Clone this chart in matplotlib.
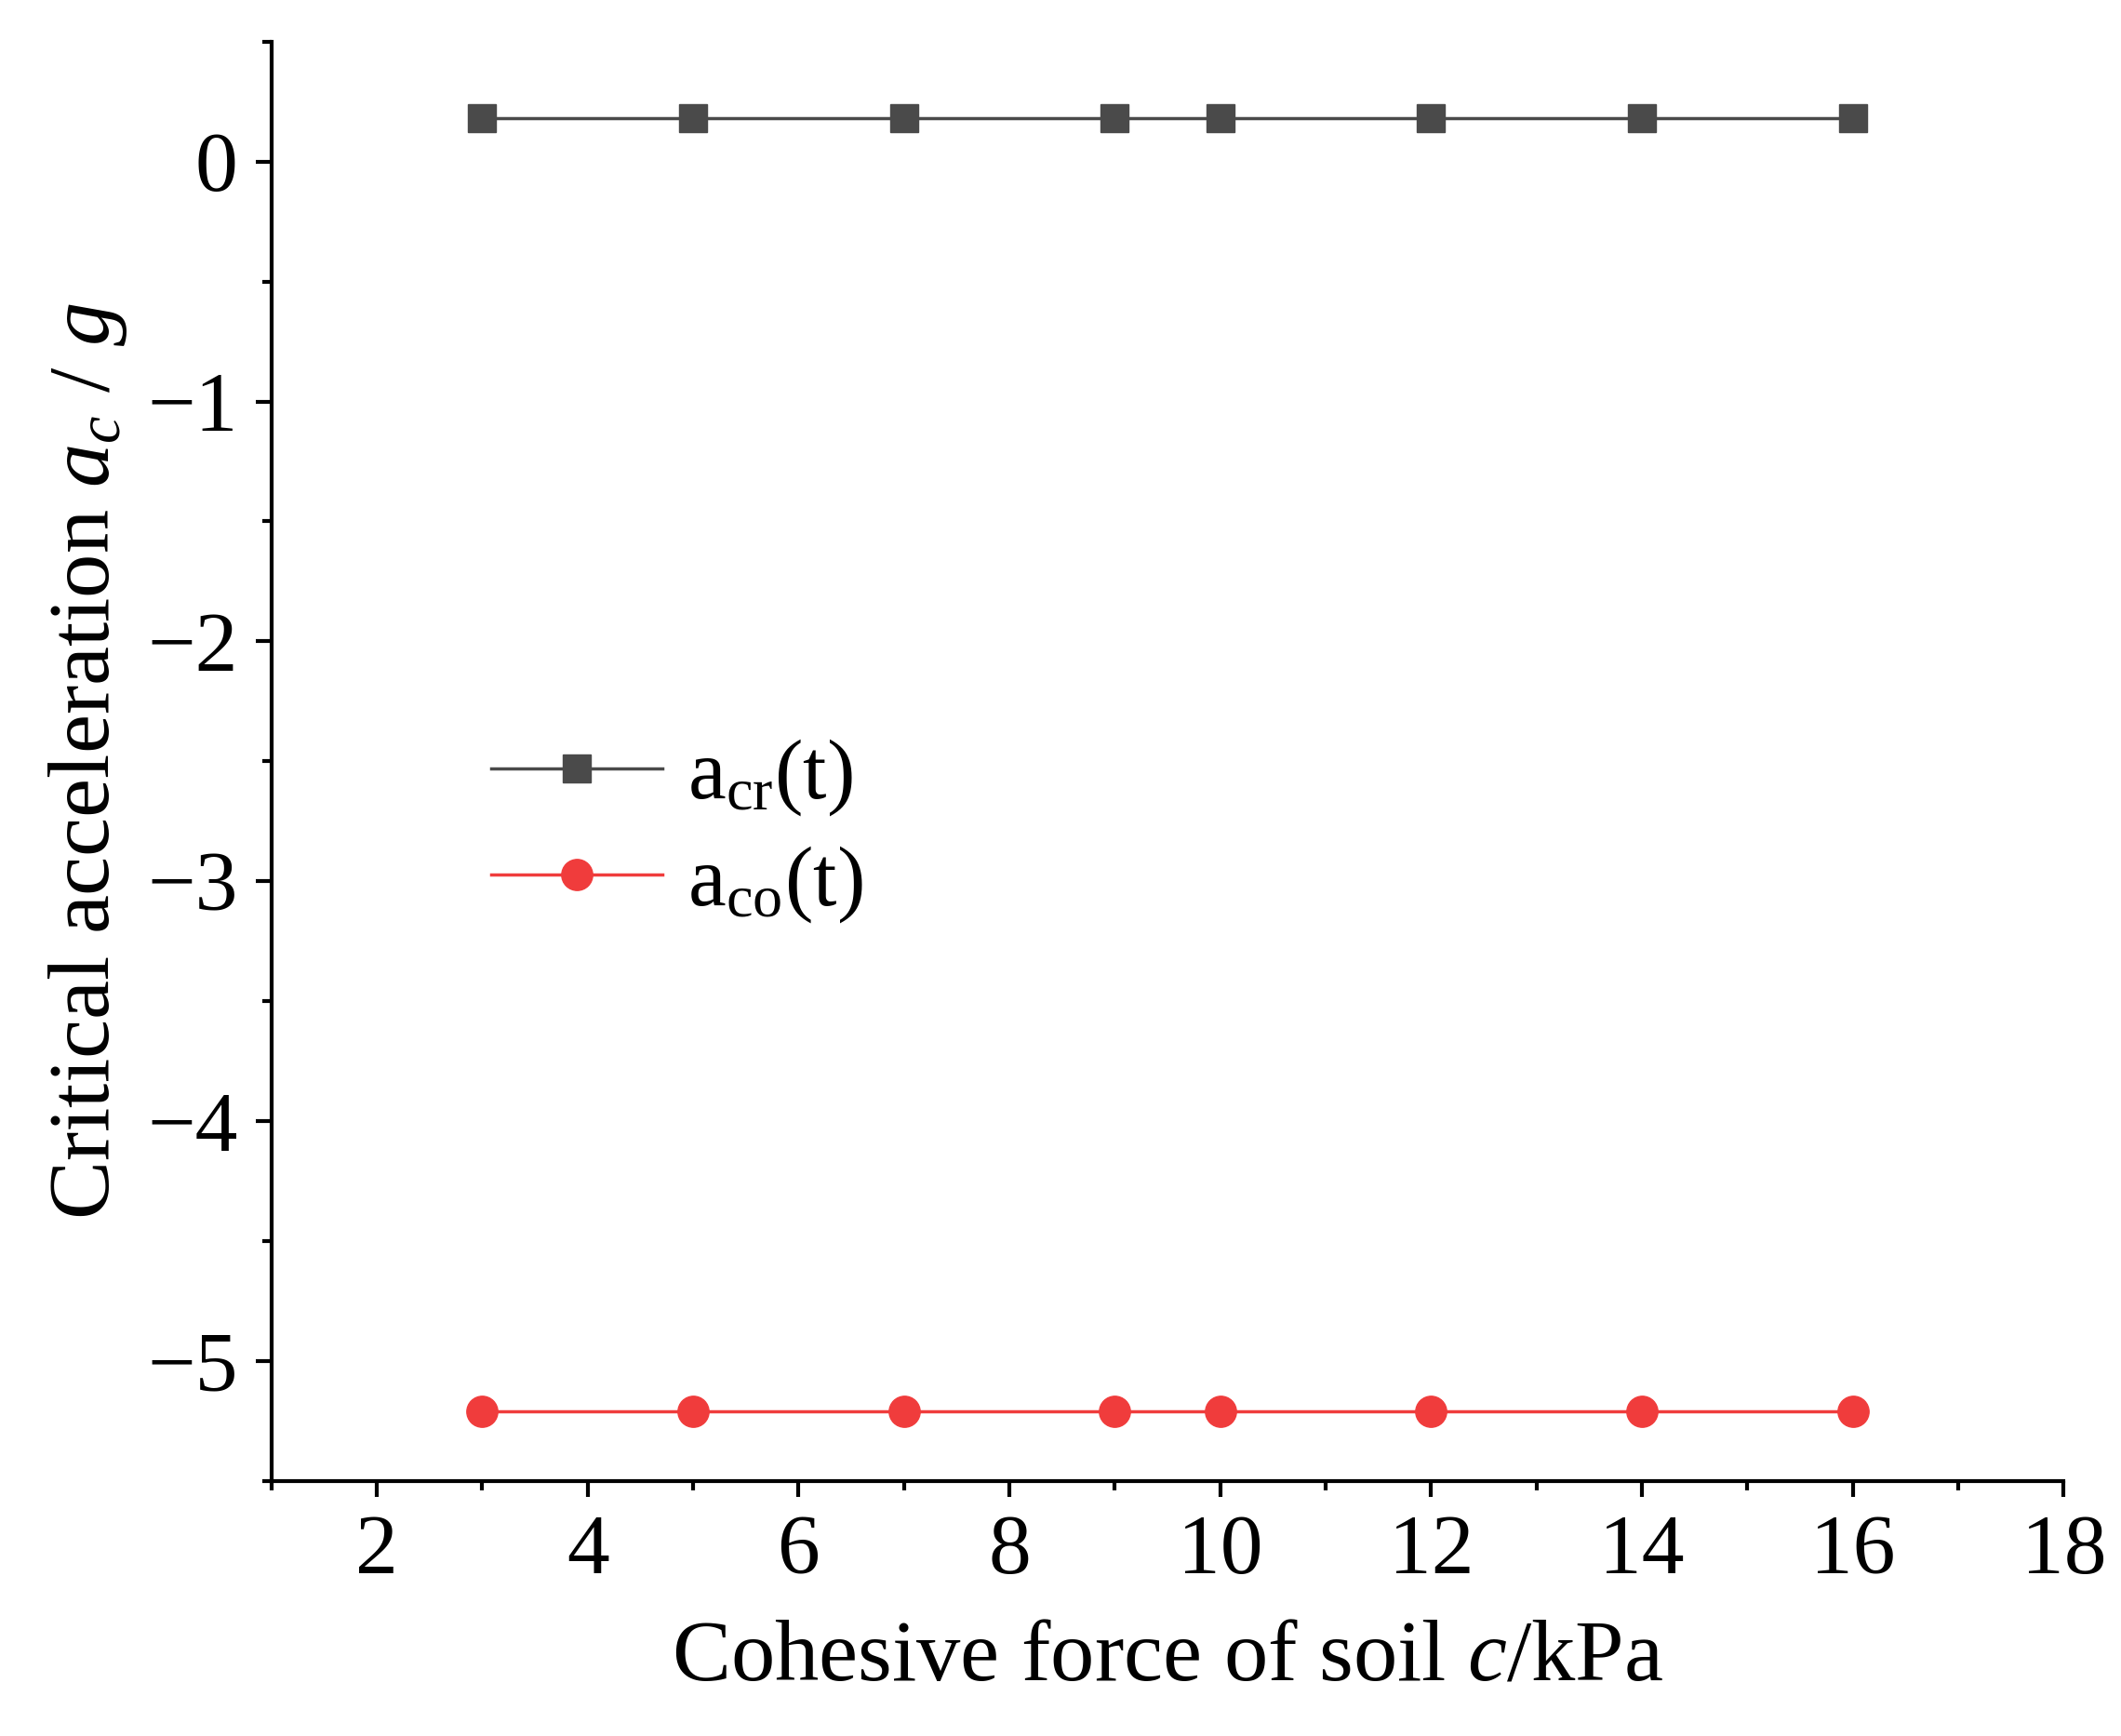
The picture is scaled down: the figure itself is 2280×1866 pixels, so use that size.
import matplotlib
matplotlib.use('Agg')
import matplotlib.pyplot as plt

plt.rcParams['font.family'] = 'Liberation Serif'
plt.rcParams['mathtext.fontset'] = 'custom'
plt.rcParams['mathtext.rm'] = 'Liberation Serif'
plt.rcParams['mathtext.it'] = 'Liberation Serif:italic'

# data
cohesion = [3, 5, 7, 9, 10, 12, 14, 16]
a_cr = [0.18, 0.18, 0.18, 0.18, 0.18, 0.18, 0.18, 0.18]
a_co = [-5.21, -5.21, -5.21, -5.21, -5.21, -5.21, -5.21, -5.21]
x_ticks = [2, 4, 6, 8, 10, 12, 14, 16, 18]
y_ticks = [0, -1, -2, -3, -4, -5]

fig = plt.figure(figsize=(22.8, 18.66), dpi=100)
ax = fig.add_axes([0.128, 0.147, 0.845, 0.829])

ax.plot(cohesion, a_cr, color='#4a4a4a', marker='s', markersize=22, lw=2.5, label=r'$\mathrm{a_{cr}(t)}$')
ax.plot(cohesion, a_co, color='#f03c3c', marker='o', markersize=24, lw=2.5, label=r'$\mathrm{a_{co}(t)}$')

ax.set_xlim(1, 18)
ax.set_ylim(-5.5, 0.5)
ax.set_xticks(x_ticks)
ax.set_yticks(y_ticks)
ax.set_yticklabels(['0', '\u22121', '\u22122', '\u22123', '\u22124', '\u22125'])
ax.set_xticks(range(1, 19), minor=True)
ax.set_yticks([0.5 - 0.5 * i for i in range(13)], minor=True)
ax.tick_params(which='major', direction='out', length=12, width=3, labelsize=66, pad=14)
ax.tick_params(which='minor', direction='out', length=7, width=3)
for s in ['top', 'right']:
    ax.spines[s].set_visible(False)
for s in ['left', 'bottom']:
    ax.spines[s].set_linewidth(3)

ax.set_xlabel(r'Cohesive force of soil $c$/kPa', fontsize=68, labelpad=22)
ax.set_ylabel(r'Critical acceleration $a_c$ / $g$', fontsize=68, labelpad=14)

ax.legend(loc='upper left', bbox_to_anchor=(0.08, 0.57), frameon=False, fontsize=66,
          handlelength=2.0, handletextpad=0.3, labelspacing=0.3)

fig.savefig('out.png', dpi=100)
